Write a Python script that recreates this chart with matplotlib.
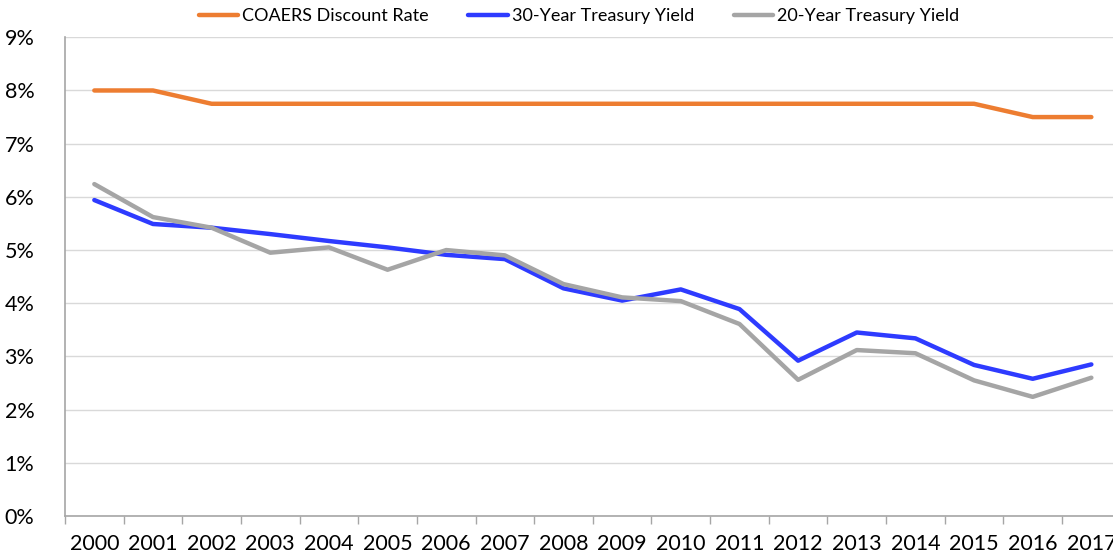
import numpy as np
import matplotlib.pyplot as plt
from matplotlib.ticker import FixedLocator, PercentFormatter

years = [str(y) for y in range(2000, 2018)]
coaers_rate = [8.0, 8.0, 7.75, 7.75, 7.75, 7.75, 7.75, 7.75, 7.75,
               7.75, 7.75, 7.75, 7.75, 7.75, 7.75, 7.75, 7.5, 7.5]
treasury_30 = [5.94, 5.49, 5.42, 5.30, 5.17, 5.05, 4.91, 4.83, 4.28,
               4.05, 4.26, 3.89, 2.92, 3.45, 3.34, 2.84, 2.58, 2.85]
treasury_20 = [6.24, 5.62, 5.42, 4.95, 5.05, 4.63, 5.00, 4.90, 4.36,
               4.11, 4.04, 3.61, 2.56, 3.12, 3.06, 2.55, 2.24, 2.60]

plt.rcParams['font.family'] = ['Lato', 'DejaVu Sans']

fig = plt.figure(figsize=(11.13, 5.59), dpi=100)
ax = fig.add_axes([0.0584, 0.0769, 0.9485, 0.8564])

x = np.arange(len(years))
ax.plot(x, coaers_rate, color='#ED7D31', lw=3.2, label='COAERS Discount Rate',
        solid_capstyle='round')
ax.plot(x, treasury_30, color='#2E3BFF', lw=3.2, label='30-Year Treasury Yield',
        solid_capstyle='round')
ax.plot(x, treasury_20, color='#A5A5A5', lw=3.2, label='20-Year Treasury Yield',
        solid_capstyle='round')

ax.set_xlim(-0.5, len(years) - 0.5)
ax.set_ylim(0, 9)
ax.set_yticks(range(0, 10))
ax.yaxis.set_major_formatter(PercentFormatter(decimals=0))
ax.grid(axis='y', color='#D9D9D9', lw=1)
ax.set_axisbelow(True)

ax.set_xticks(x)
ax.set_xticklabels(years)
ax.xaxis.set_minor_locator(FixedLocator(np.arange(-0.5, len(years), 1)))
ax.tick_params(axis='x', which='major', length=0, pad=13, labelsize=15.5)
ax.tick_params(axis='x', which='minor', length=6, color='#A6A6A6', width=1)
ax.tick_params(axis='y', length=0, pad=22, labelsize=15.5)

for s in ['top', 'right']:
    ax.spines[s].set_visible(False)
ax.spines['left'].set_color('#A6A6A6')
ax.spines['bottom'].set_color('#A6A6A6')
ax.spines['left'].set_linewidth(1.2)
ax.spines['bottom'].set_linewidth(1.2)

fig.legend(loc='upper center', bbox_to_anchor=(0.52, 1.015), ncol=3,
           frameon=False, fontsize=13, handlelength=2.2, handletextpad=0.2,
           columnspacing=2.2)

fig.savefig('out.png', dpi=100)
